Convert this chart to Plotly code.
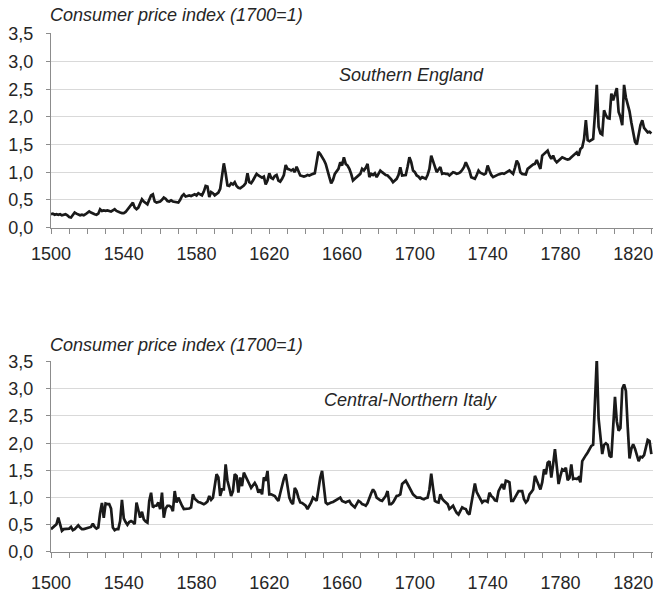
import plotly.graph_objects as go
from plotly.subplots import make_subplots

years = list(range(1500, 1831))

england = [
    0.24, 0.25, 0.23, 0.24, 0.23, 0.24, 0.22, 0.23, 0.24, 0.22,
    0.19, 0.18, 0.22, 0.27, 0.25, 0.23, 0.22, 0.23, 0.22, 0.24,
    0.27, 0.29, 0.27, 0.25, 0.24, 0.23, 0.25, 0.33, 0.30, 0.31,
    0.30, 0.31, 0.30, 0.29, 0.31, 0.33, 0.30, 0.28, 0.27, 0.26,
    0.26, 0.28, 0.32, 0.38, 0.42, 0.45, 0.36, 0.33, 0.36, 0.44,
    0.51, 0.47, 0.45, 0.42, 0.50, 0.58, 0.60, 0.47, 0.45, 0.46,
    0.47, 0.50, 0.54, 0.52, 0.48, 0.47, 0.49, 0.47, 0.46, 0.45,
    0.45, 0.50, 0.57, 0.60, 0.56, 0.57, 0.58, 0.57, 0.58, 0.60,
    0.58, 0.62, 0.60, 0.58, 0.65, 0.75, 0.74, 0.55, 0.64, 0.62,
    0.58, 0.60, 0.63, 0.70, 0.90, 1.16, 0.98, 0.76, 0.75, 0.80,
    0.78, 0.82, 0.75, 0.72, 0.71, 0.73, 0.76, 0.80, 0.98, 0.82,
    0.80, 0.85, 0.90, 0.97, 0.94, 0.92, 0.90, 0.92, 0.78, 0.85,
    0.98, 0.90, 0.88, 0.93, 0.95, 0.85, 0.83, 0.88, 0.95, 1.13,
    1.06, 1.05, 1.03, 1.05, 1.00, 1.10, 1.00, 0.94, 0.93, 0.92,
    0.93, 0.95, 0.94, 0.96, 0.97, 0.98, 1.20, 1.37, 1.33, 1.28,
    1.22, 1.15, 1.05, 0.91, 0.80, 0.86, 0.97, 1.02, 1.06, 1.18,
    1.12, 1.27, 1.15, 1.12, 1.06, 0.97, 0.85, 0.88, 0.91, 0.95,
    0.97, 1.06, 1.03, 1.08, 1.15, 0.91, 0.97, 0.95, 0.98, 0.91,
    0.97, 1.03, 1.00, 0.97, 0.95, 0.94, 0.91, 0.87, 0.82, 0.85,
    0.88, 0.95, 1.09, 0.94, 0.95, 0.95, 1.10, 1.27, 1.18, 1.03,
    1.00, 0.94, 0.92, 0.88, 0.91, 0.90, 0.88, 0.95, 1.06, 1.30,
    1.20, 1.12, 1.00, 1.05, 1.09, 0.97, 0.98, 0.97, 0.97, 0.94,
    0.97, 1.00, 0.99, 0.97, 0.98, 1.00, 1.04, 1.09, 1.18, 1.10,
    1.03, 0.91, 0.90, 0.88, 0.95, 1.03, 0.99, 0.97, 0.96, 0.98,
    1.12, 1.03, 0.95, 0.91, 0.93, 0.94, 0.96, 0.97, 0.98, 0.97,
    0.99, 1.00, 1.03, 1.00, 0.97, 1.08, 1.21, 1.15, 1.00, 0.97,
    0.96, 0.96, 1.06, 1.09, 1.12, 1.14, 1.15, 1.22, 1.14, 1.06,
    1.30, 1.33, 1.36, 1.39, 1.30, 1.24, 1.30, 1.22, 1.18, 1.22,
    1.24, 1.27, 1.25, 1.24, 1.23, 1.24, 1.27, 1.30, 1.33, 1.36,
    1.30, 1.42, 1.45, 1.60, 1.94, 1.58, 1.56, 1.58, 1.60, 2.05,
    2.58, 1.82, 1.70, 1.68, 2.12, 2.03, 1.98, 1.97, 2.42, 2.30,
    2.40, 2.52, 2.09, 2.00, 1.85, 2.58, 2.35, 2.22, 2.10, 1.90,
    1.75, 1.55, 1.50, 1.70, 1.85, 1.94, 1.80, 1.76, 1.72, 1.73,
    1.70,
]

italy = [
    0.42, 0.45, 0.48, 0.51, 0.63, 0.50, 0.39, 0.42, 0.42, 0.42,
    0.43, 0.46, 0.40, 0.42, 0.45, 0.49, 0.45, 0.42, 0.42, 0.43,
    0.43, 0.44, 0.46, 0.52, 0.46, 0.43, 0.45, 0.72, 0.90, 0.63,
    0.89, 0.88, 0.88, 0.80, 0.45, 0.40, 0.42, 0.42, 0.57, 0.96,
    0.62, 0.55, 0.50, 0.55, 0.57, 0.55, 0.51, 0.91, 0.78, 0.63,
    0.74, 0.60, 0.56, 0.54, 0.94, 1.09, 0.82, 0.85, 0.85, 0.91,
    0.79, 1.09, 0.63, 0.80, 0.85, 0.85, 0.83, 0.75, 1.12, 0.91,
    1.00, 0.91, 0.85, 0.79, 0.79, 0.79, 0.80, 0.82, 1.06, 0.98,
    0.94, 0.92, 0.91, 0.90, 0.88, 0.90, 0.93, 1.03, 0.96, 1.00,
    1.25, 1.43, 1.37, 1.03, 1.15, 1.15, 1.61, 1.31, 1.18, 1.03,
    1.12, 1.43, 1.40, 1.09, 1.37, 1.21, 1.46, 1.38, 1.31, 1.25,
    1.18, 1.22, 1.27, 1.21, 1.09, 1.15, 1.06, 1.37, 1.31, 1.49,
    1.06, 1.06, 1.05, 1.03, 0.98, 0.94, 1.08, 1.25, 1.35, 1.43,
    1.25, 1.00, 0.92, 0.88, 1.18, 1.12, 1.00, 0.91, 0.90, 0.88,
    0.85, 0.79, 0.85, 0.91, 1.00, 0.97, 0.94, 1.15, 1.37, 1.49,
    1.18, 0.91, 0.88, 0.90, 0.91, 0.92, 0.94, 0.96, 0.97, 1.00,
    0.94, 0.92, 0.91, 0.93, 0.94, 0.88, 0.85, 0.82, 0.88, 0.94,
    0.92, 0.88, 0.87, 0.85, 0.90, 1.00, 1.08, 1.15, 1.10, 1.00,
    0.97, 0.95, 0.94, 0.98, 1.03, 1.12, 0.88, 0.88, 0.91, 0.97,
    1.03, 1.04, 1.06, 1.25, 1.28, 1.31, 1.25, 1.18, 1.12, 1.06,
    1.03, 1.00, 1.00, 1.00, 0.98, 0.97, 0.99, 1.00, 1.15, 1.44,
    1.18, 0.94, 0.92, 0.91, 1.06, 0.98, 0.94, 0.91, 0.88, 0.79,
    0.82, 0.85, 0.78, 0.72, 0.69, 0.76, 0.82, 0.80, 0.79, 0.72,
    0.69, 0.88, 1.06, 1.26, 1.10, 1.03, 0.95, 0.91, 0.94, 0.94,
    0.92, 1.09, 1.03, 1.00, 0.95, 0.94, 1.12, 1.18, 1.25, 1.15,
    1.31, 1.30, 1.28, 0.94, 0.94, 1.00, 1.06, 1.12, 1.12, 1.12,
    0.97, 0.91, 0.95, 1.06, 1.10, 1.15, 1.40, 1.32, 1.25, 1.15,
    1.28, 1.52, 1.43, 1.64, 1.67, 1.37, 1.61, 1.89, 1.58, 1.25,
    1.40, 1.52, 1.50, 1.55, 1.32, 1.36, 1.61, 1.34, 1.35, 1.34,
    1.37, 1.28, 1.67, 1.74, 1.78, 1.83, 1.90, 1.95, 1.97, 2.70,
    3.55, 2.45, 2.15, 1.80, 1.97, 2.00, 1.97, 1.77, 1.74, 2.40,
    2.85, 2.40, 2.23, 2.28, 3.00, 3.08, 2.96, 2.30, 1.72, 1.90,
    1.98, 1.90, 1.80, 1.67, 1.75, 1.74, 1.78, 1.95, 2.06, 2.04,
    1.80,
]

y_ticks = [0.0, 0.5, 1.0, 1.5, 2.0, 2.5, 3.0, 3.5]
x_label_years = [1500, 1540, 1580, 1620, 1660, 1700, 1740, 1780, 1820]
titles = ["Consumer price index (1700=1)", "Consumer price index (1700=1)"]
region_names = ["Southern England", "Central-Northern Italy"]

W, H = 653, 598
L = 51
FONT = "Liberation Sans, Arial, sans-serif"
TXT = "#262626"
AX = "#8c8c8c"
YTOP = 3.51

fig = make_subplots(rows=2, cols=1)
fig.add_trace(go.Scatter(x=years, y=england, mode="lines",
                         line=dict(color="#1a1a1a", width=2.7), showlegend=False,
                         hoverinfo="skip"), row=1, col=1)
fig.add_trace(go.Scatter(x=years, y=italy, mode="lines",
                         line=dict(color="#1a1a1a", width=2.7), showlegend=False,
                         hoverinfo="skip"), row=2, col=1)


def py(px):
    return 1 - px / H


top_dom = [py(227.5), py(227.5 - YTOP * 55.3)]
bot_dom = [py(552.0), py(552.0 - YTOP * 54.4)]


def xaxis_style(standoff):
    return dict(range=[1500, 1830.9], tickmode="array", tickvals=x_label_years,
                ticks="outside", ticklen=5, tickcolor=AX, showgrid=False,
                showline=True, linecolor=AX, linewidth=1, zeroline=False,
                tickfont=dict(family=FONT, size=18, color=TXT),
                ticklabelstandoff=standoff, ticklabeloverflow="allow",
                automargin=False, domain=[0, 1],
                minor=dict(tickmode="linear", tick0=1500, dtick=10, ticks="outside",
                           ticklen=5, tickcolor=AX, showgrid=False))


def yaxis_style(dom):
    return dict(range=[0, YTOP], tickmode="array", tickvals=y_ticks, tickformat=".1f",
                ticks="outside", ticklen=4, tickcolor=AX, showgrid=True,
                gridcolor="#d9d9d9", gridwidth=1, showline=True, linecolor=AX,
                linewidth=1, zeroline=False, domain=dom,
                tickfont=dict(family=FONT, size=18, color=TXT),
                ticklabelstandoff=9, ticklabeloverflow="allow", automargin=False)


annos = []
for ttl, yc in zip(titles, [15, 345]):
    annos.append(dict(text="<i>" + ttl + "</i>", xref="paper", yref="paper",
                      x=(48 - L) / (W - L), y=py(yc), xanchor="left", yanchor="middle",
                      showarrow=False, font=dict(family=FONT, size=18, color=TXT)))
for name, (xl, yc) in zip(region_names, [(337, 75), (322, 400)]):
    annos.append(dict(text="<i>" + name + "</i>", xref="paper", yref="paper",
                      x=(xl - L) / (W - L), y=py(yc), xanchor="left", yanchor="middle",
                      showarrow=False, font=dict(family=FONT, size=18, color=TXT)))

fig.update_layout(
    width=W, height=H,
    margin=dict(l=L, r=0, t=0, b=0),
    paper_bgcolor="white", plot_bgcolor="white",
    separators=",.",
    xaxis=xaxis_style(5),
    xaxis2=xaxis_style(9),
    yaxis=yaxis_style(top_dom),
    yaxis2=yaxis_style(bot_dom),
    annotations=annos,
    showlegend=False,
)

fig.write_html("out.html", config={"displayModeBar": False},
               post_script="document.body.style.margin='0';")
